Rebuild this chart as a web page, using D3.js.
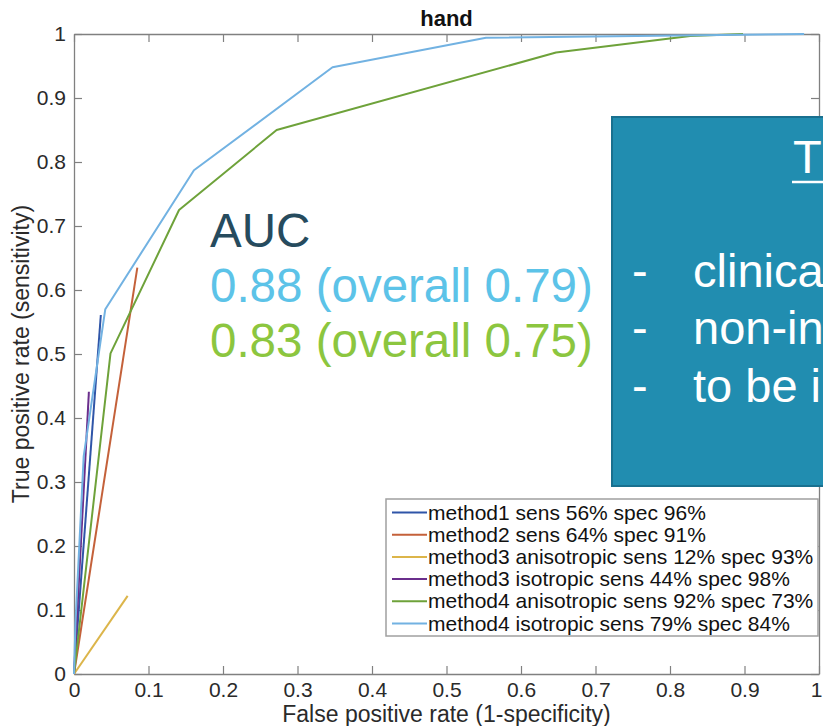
<!DOCTYPE html>
<html>
<head>
<meta charset="utf-8">
<script src="https://cdnjs.cloudflare.com/ajax/libs/d3/7.8.5/d3.min.js"></script>
<style>
body{margin:0;background:#fff;}
svg{display:block;}
</style>
</head>
<body>
<svg id="rocPlot"></svg>
<script>
//roc points, [fpr, tpr]
var method1 = [[0,0],[0.036,0.561]];
var method2 = [[0,0],[0.085,0.635]];
var method3Aniso = [[0,0],[0.072,0.122]];
var method3Iso = [[0,0],[0.02,0.441]];
var method4Aniso = [[0,0],[0.049,0.501],[0.141,0.725],[0.272,0.85],
                    [0.647,0.971],[0.827,0.997],[0.898,1.0]];
var method4Iso = [[0,0],[0.002,0.08],[0.013,0.34],[0.042,0.57],[0.161,0.787],
                  [0.347,0.948],[0.553,0.994],[0.98,1.0]];

var seriesNames = [
    "method1 sens 56% spec 96%",
    "method2 sens 64% spec 91%",
    "method3 anisotropic sens 12% spec 93%",
    "method3 isotropic sens 44% spec 98%",
    "method4 anisotropic sens 92% spec 73%",
    "method4 isotropic sens 79% spec 84%"
];
var seriesColors = ["#2f55a8","#c4613a","#dcb54a","#6a2e8c","#6ea23a","#72b2e2"];

var xTicks = [0,0.1,0.2,0.3,0.4,0.5,0.6,0.7,0.8,0.9,1];
var yTicks = [0,0.1,0.2,0.3,0.4,0.5,0.6,0.7,0.8,0.9,1];
var tickLabels = ["0","0.1","0.2","0.3","0.4","0.5","0.6","0.7","0.8","0.9","1"];

var aucLines = ["AUC","0.88 (overall 0.79)","0.83 (overall 0.75)"];
var aucColors = ["#264b5e","#5cc3e8","#8cc63f"];
var boxTitle = "T";
var boxBullets = ["clinica","non-in","to be i"];

var initGraph = function(target)
{
    var screen = {width:823, height:726};
    var margins = {top:34,bottom:52,left:74,right:4};
    var graph = {
        width:screen.width-margins.left-margins.right,
        height:screen.height-margins.top-margins.bottom
    };

    var svg = d3.select(target)
        .attr("width",screen.width)
        .attr("height",screen.height)
        .style("font-family","'Liberation Sans', Arial, Helvetica, sans-serif");

    var xScale = d3.scaleLinear().domain([0,1]).range([0,graph.width]);
    var yScale = d3.scaleLinear().domain([0,1]).range([graph.height,0]);

    var g = svg.append("g")
        .attr("transform","translate("+margins.left+","+margins.top+")");

    //axes, matlab style ticks pointing in
    var fmt = function(d,i){ return tickLabels[i]; };
    var xAxis = g.append("g")
        .attr("transform","translate(0,"+graph.height+")")
        .call(d3.axisBottom(xScale).tickValues(xTicks).tickFormat(fmt)
              .tickSizeInner(-8).tickSizeOuter(0).tickPadding(8));
    var yAxis = g.append("g")
        .call(d3.axisLeft(yScale).tickValues(yTicks).tickFormat(fmt)
              .tickSizeInner(-8).tickSizeOuter(0).tickPadding(8));
    var topAxis = g.append("g")
        .call(d3.axisTop(xScale).tickValues(xTicks).tickFormat("")
              .tickSizeInner(-8).tickSizeOuter(0));
    var rightAxis = g.append("g")
        .attr("transform","translate("+graph.width+",0)")
        .call(d3.axisRight(yScale).tickValues(yTicks).tickFormat("")
              .tickSizeInner(-8).tickSizeOuter(0));

    g.selectAll(".domain").attr("stroke","#808080").attr("stroke-width",1.3);
    g.selectAll(".tick line").attr("stroke","#808080").attr("stroke-width",1.2);
    g.selectAll(".tick text")
        .attr("fill","#2a2a2a")
        .style("font-size","21px")
        .style("font-family","'Liberation Sans', Arial, sans-serif");
    //last x label sits on the page edge, pull it in a touch
    xAxis.selectAll(".tick text").filter(function(d){ return d===1; })
        .attr("text-anchor","end").attr("dx","3");

    //curves
    var line = d3.line()
        .x(function(p){ return xScale(p[0]); })
        .y(function(p){ return yScale(p[1]); });
    var allSeries = [method1,method2,method3Aniso,method3Iso,method4Aniso,method4Iso];
    g.selectAll(".curve")
        .data(allSeries)
        .enter()
        .append("path")
        .attr("class","curve")
        .attr("d",line)
        .attr("fill","none")
        .attr("stroke",function(d,i){ return seriesColors[i]; })
        .attr("stroke-width",2)
        .attr("stroke-linejoin","round");

    //title + axis labels
    svg.append("text")
        .attr("x",margins.left+graph.width/2)
        .attr("y",26)
        .attr("text-anchor","middle")
        .attr("font-weight","bold")
        .attr("fill","#111")
        .style("font-size","22px")
        .text("hand");
    svg.append("text")
        .attr("x",margins.left+graph.width/2)
        .attr("y",722)
        .attr("text-anchor","middle")
        .attr("fill","#2a2a2a")
        .style("font-size","23px")
        .text("False positive rate (1-specificity)");
    svg.append("text")
        .attr("transform","translate(29,"+(margins.top+graph.height/2)+") rotate(-90)")
        .attr("text-anchor","middle")
        .attr("fill","#2a2a2a")
        .style("font-size","23px")
        .text("True positive rate (sensitivity)");

    //legend
    var legend = svg.append("g").attr("transform","translate(386,499)");
    legend.append("rect")
        .attr("width",432).attr("height",137)
        .attr("fill","#fff")
        .attr("stroke","#a0a0a0")
        .attr("stroke-width",1.5);
    var rows = legend.selectAll(".row")
        .data(seriesNames)
        .enter()
        .append("g")
        .attr("transform",function(d,i){ return "translate(0,"+(13.5+i*22.2)+")"; });
    rows.append("line")
        .attr("x1",6).attr("x2",41)
        .attr("stroke",function(d,i){ return seriesColors[i]; })
        .attr("stroke-width",2);
    rows.append("text")
        .attr("x",42)
        .attr("y",7)
        .attr("fill","#111")
        .style("font-size","21px")
        .text(function(d){ return d; });

    //AUC annotation
    svg.selectAll(".auc")
        .data(aucLines)
        .enter()
        .append("text")
        .attr("x",210)
        .attr("y",function(d,i){ return 247+i*55; })
        .attr("fill",function(d,i){ return aucColors[i]; })
        .style("font-size","47.5px")
        .text(function(d){ return d; });

    //teal overlay box (runs off the right edge)
    var box = svg.append("g");
    box.append("rect")
        .attr("x",612).attr("y",117)
        .attr("width",230).attr("height",369)
        .attr("fill","#218db0")
        .attr("stroke","#19708f")
        .attr("stroke-width",2);
    box.append("text")
        .attr("x",793).attr("y",173)
        .attr("fill","#fff")
        .style("font-size","47px")
        .text(boxTitle);
    box.append("line")
        .attr("x1",792).attr("x2",830)
        .attr("y1",182).attr("y2",182)
        .attr("stroke","#fff").attr("stroke-width",2.5);
    var bullets = box.selectAll(".bullet")
        .data(boxBullets)
        .enter()
        .append("g")
        .attr("transform",function(d,i){ return "translate(0,"+[287,344,402][i]+")"; });
    bullets.append("text")
        .attr("x",632)
        .attr("fill","#fff")
        .style("font-size","47px")
        .text("-");
    bullets.append("text")
        .attr("x",693)
        .attr("fill","#fff")
        .style("font-size","47px")
        .text(function(d){ return d; });
}

initGraph("#rocPlot");
</script>
</body>
</html>
